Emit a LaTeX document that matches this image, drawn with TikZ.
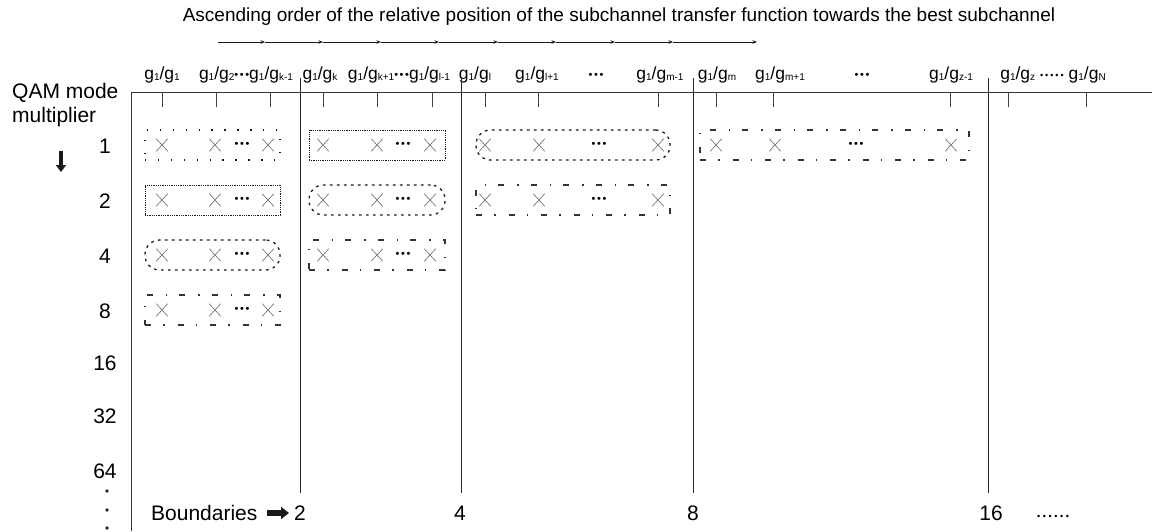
\documentclass[tikz,border=0pt]{standalone}
\usepackage{fontspec}
\setmainfont{Liberation Sans}
\usetikzlibrary{arrows.meta,shapes.misc}

% subscript and ratio labels g_a/g_b
\newcommand\sbs[1]{\raisebox{-1.2pt}{\fontsize{10}{10}\selectfont #1}}
\newcommand\gratio[2]{g\sbs{#1}/g\sbs{#2}}
% small bullet runs
\newcommand\bul{\raisebox{0.8pt}{\fontsize{11}{11}\selectfont\textbullet}}
\newcommand\tridots{\bul\kern1.6pt\bul\kern1.6pt\bul}
\newcommand\sbul{\raisebox{0.5pt}{\fontsize{9}{9}\selectfont\textbullet}}

% one cell: frame, three crosses and a run of dots
% #1 name, #2 frame style, #3 centre x, #4 width, #5 y, #6-#8 cross x, #9 dots x
\newcommand\qamcell[9]{%
  \node[#2, minimum width=#4pt] (#1) at (#3,#5) {};
  \node[xmark] (#1-a) at (#6,#5) {};
  \node[xmark] (#1-b) at (#7,#5) {};
  \node[xmark] (#1-c) at (#8,#5) {};
  \node[tdots] (#1-d) at (#9,#5) {\tridots};
}

\begin{document}
\begin{tikzpicture}[x=1pt,y=-1pt,
  title/.style={anchor=base,inner sep=0pt,font=\fontsize{19}{22}\selectfont},
  glabel/.style={anchor=base,inner sep=0pt,font=\fontsize{17.5}{20}\selectfont},
  side/.style={anchor=base west,inner sep=0pt,font=\fontsize{21}{24}\selectfont},
  rownum/.style={anchor=base,inner sep=0pt,font=\fontsize{21}{24}\selectfont},
  grid/.style={draw=black!80,line width=0.9pt},
  tick/.style={draw=black!75,line width=0.8pt},
  bound/.style={draw=black!85,line width=1pt},
  chain/.style={draw=black!90,line width=0.9pt,-{Stealth[length=4.5pt,width=3.5pt]}},
  boxbase/.style={rectangle,inner sep=0pt,minimum height=30pt,draw=black!90},
  boxA/.style={boxbase,line width=1.4pt,dash pattern=on 1.4pt off 11.5pt},
  boxB/.style={boxbase,line width=0.9pt,dash pattern=on 0.9pt off 0.9pt},
  boxC/.style={boxbase,rounded corners=14.5pt,line width=1.3pt,dash pattern=on 2.6pt off 4.4pt},
  boxD/.style={boxbase,draw=black!80,line width=1.1pt,dash pattern=on 6pt off 12pt on 1.5pt off 13pt},
  xmark/.style={cross out,draw=black!60,line width=0.6pt,minimum width=11pt,minimum height=12pt,inner sep=0pt},
  tdots/.style={inner sep=0pt,anchor=center},
  bigarrow/.style={draw=black!90}
]
\useasboundingbox (0,0) rectangle (1152,531);

% heading and the ordering arrow chain
\node[title] (head) at (619,21) {Ascending order of the relative position of the subchannel transfer function towards the best subchannel};
\foreach \i/\xx in {0/218,1/265,2/323,3/381,4/439,5/498,6/556,7/615,8/673,9/757}
  \coordinate (a\i) at (\xx,42);
\foreach \i [evaluate=\i as \j using int(\i+1)] in {0,...,8}
  \draw[chain] (a\i) -- (a\j);

% column labels
\node[glabel] (l1)  at (162,79)  {\gratio{1}{1}};
\node[glabel] (l2)  at (246,79)  {\gratio{1}{2}\tridots\gratio{1}{k-1}};
\node[glabel] (l3)  at (320,79)  {\gratio{1}{k}};
\node[glabel] (l4)  at (399,79)  {\gratio{1}{k+1}\tridots\gratio{1}{l-1}};
\node[glabel] (l5)  at (475,79)  {\gratio{1}{l}};
\node[glabel] (l6)  at (537,79)  {\gratio{1}{l+1}};
\node[glabel] (l7)  at (596,79)  {\tridots};
\node[glabel] (l8)  at (660,79)  {\gratio{1}{m-1}};
\node[glabel] (l9)  at (717,79)  {\gratio{1}{m}};
\node[glabel] (l10) at (780,79)  {\gratio{1}{m+1}};
\node[glabel] (l11) at (862,79)  {\tridots};
\node[glabel] (l12) at (951,79)  {\gratio{1}{z-1}};
\node[glabel] (l13) at (1053,79) {\gratio{1}{z} \sbul\kern2pt\sbul\kern2pt\sbul\kern2pt\sbul\kern2pt\sbul{} \gratio{1}{N}};

% axes
\draw[grid] (131,92) -- (1152,92);
\draw[grid] (131,92) -- (131,531);
\foreach \xx in {162,216,270,323,377,432,485,538,658,716,773,950,1008,1086}
  \draw[tick] (\xx,92) -- (\xx,107);

% region boundaries
\foreach \xx/\n in {300/b2,461/b4,693/b8,988/b16}
  \draw[bound] (\xx,78) -- (\xx,493);

% row headings
\node[side] (qam)  at (12,98)  {QAM mode};
\node[side] (mult) at (12,122) {multiplier};
\coordinate (dn0) at (61,151);
\coordinate (dn1) at (61,172);
\draw[bigarrow,line width=4.5pt,-{Triangle[length=7pt,width=10pt]}] (dn0) -- (dn1);
\foreach \v/\yy in {1/153,2/208,4/263,8/318,16/370,32/423,64/478}
  \node[rownum] (m\v) at (105,\yy) {\v};
\foreach \yy [count=\k] in {491,510,528}
  \fill[black!85] (107,\yy) circle (1.8pt);

% cells
\qamcell{c11}{boxA}{212.5}{135}{145}{162}{215}{268}{242}
\qamcell{c12}{boxB}{377}{136}{145}{323}{377}{430}{403}
\qamcell{c13}{boxC}{573}{194}{145}{485}{539}{658}{599}
\qamcell{c14}{boxD}{834.5}{269}{145}{716}{775}{951}{856}
\qamcell{c21}{boxB}{212.5}{135}{200}{162}{215}{268}{242}
\qamcell{c22}{boxC}{377}{136}{200}{323}{377}{430}{403}
\qamcell{c23}{boxD}{573}{194}{200}{485}{539}{658}{599}
\qamcell{c31}{boxC}{212.5}{135}{255}{162}{215}{268}{242}
\qamcell{c32}{boxD}{377}{136}{255}{323}{377}{430}{403}
\qamcell{c41}{boxD}{212.5}{135}{310}{162}{215}{268}{242}

% boundary values
\node[side] (bnd) at (151,520) {Boundaries};
\coordinate (ba0) at (267,513);
\coordinate (ba1) at (289,513);
\draw[bigarrow,line width=6pt,-{Triangle[length=8pt,width=12pt]}] (ba0) -- (ba1);
\node[rownum] (v2)  at (300,520) {2};
\node[rownum] (v4)  at (460,520) {4};
\node[rownum] (v8)  at (693,520) {8};
\node[rownum] (v16) at (991,520) {16};
\node[side] (vmore) at (1037,520) {\sbul\kern2.6pt\sbul\kern2.6pt\sbul\kern2.6pt\sbul\kern2.6pt\sbul\kern2.6pt\sbul};
\end{tikzpicture}
\end{document}
